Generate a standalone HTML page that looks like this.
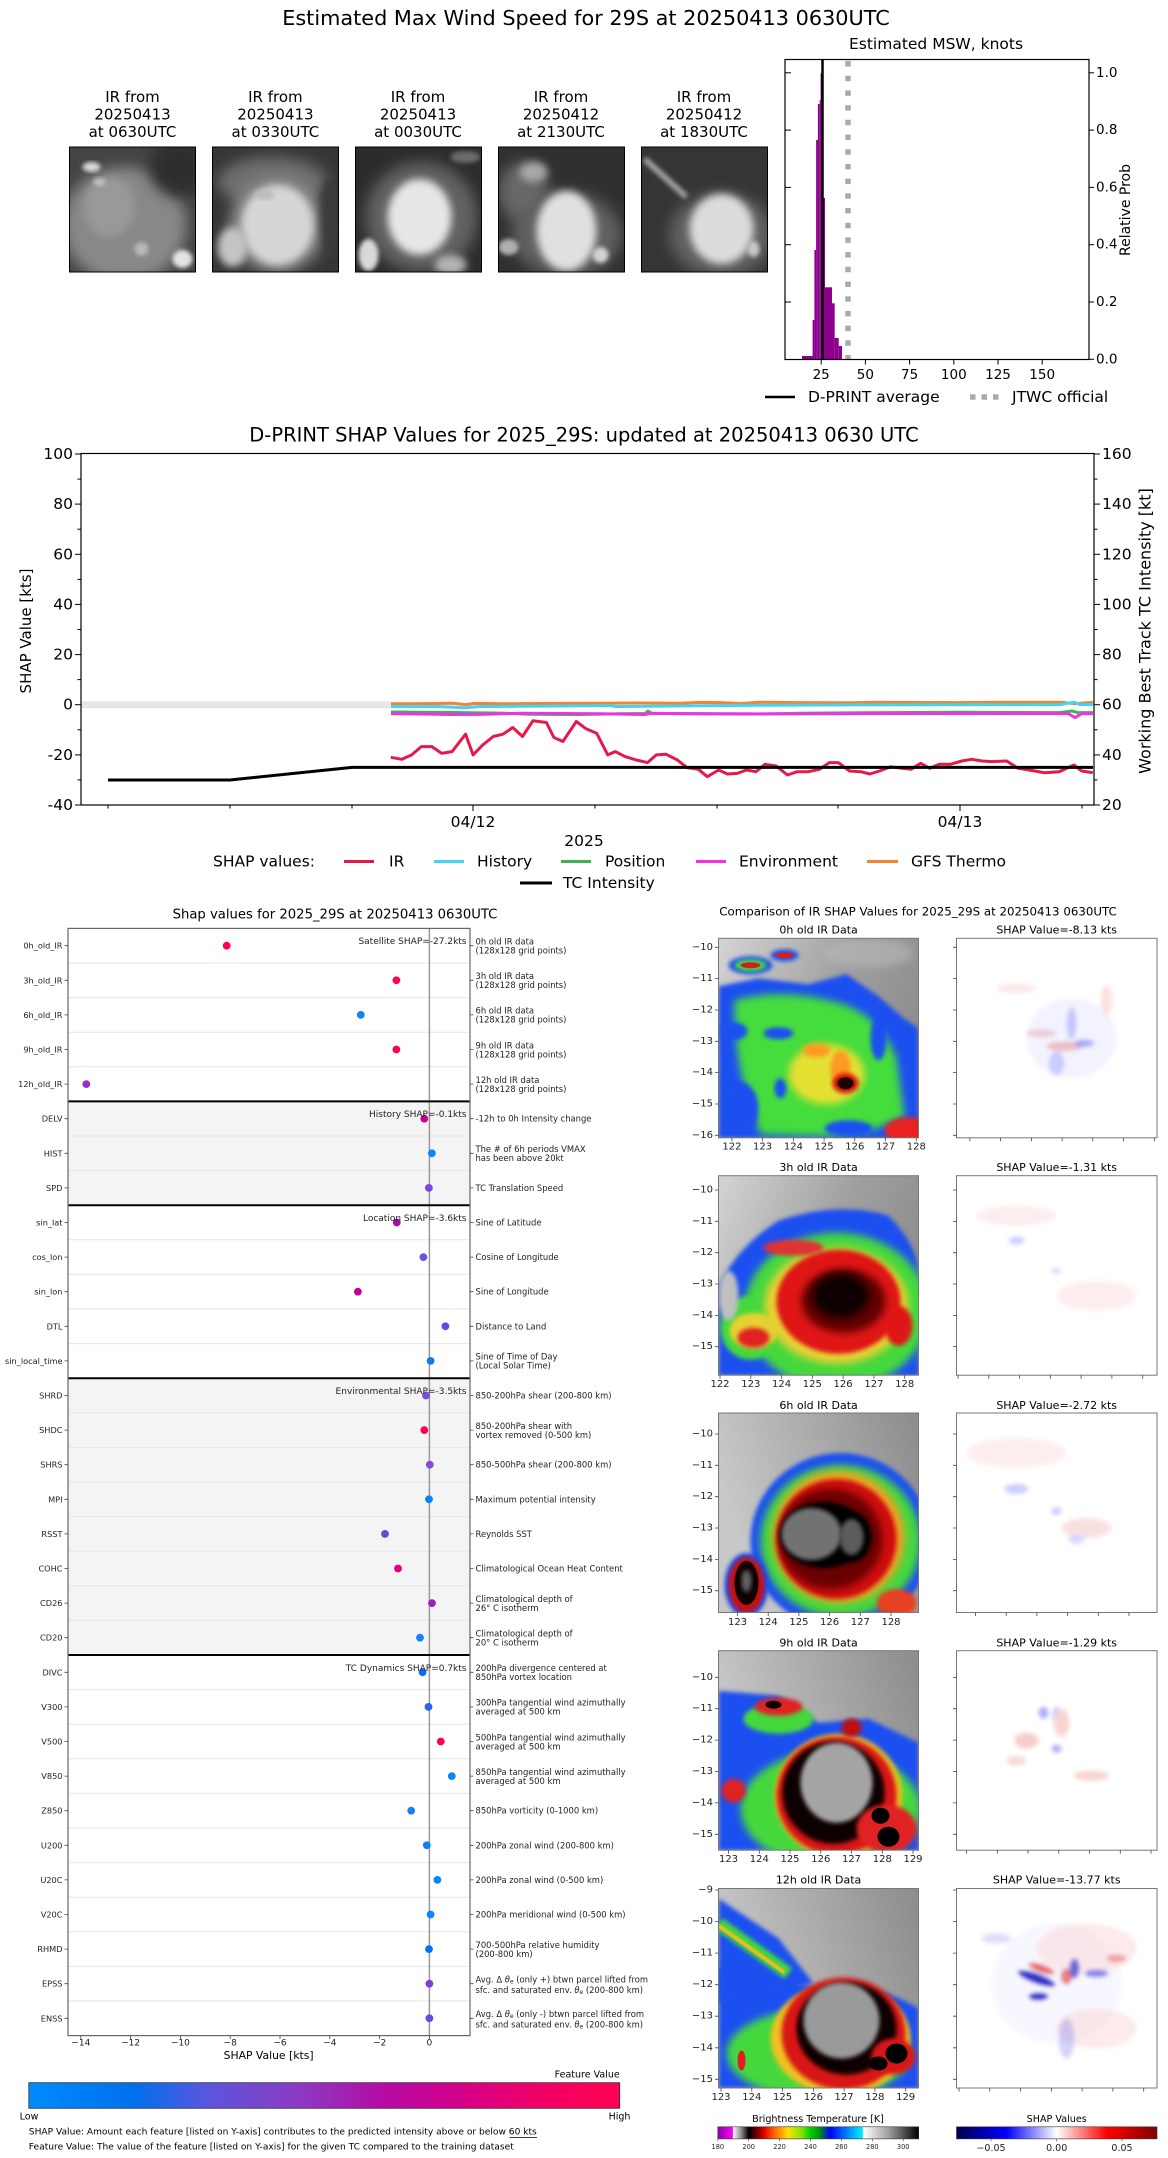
<!DOCTYPE html>
<html><head><meta charset="utf-8"><style>
html,body{margin:0;padding:0;background:#fff;}
svg{display:block;font-family:"DejaVu Sans","Liberation Sans",sans-serif;}
</style></head><body>
<svg width="1168" height="2158" viewBox="0 0 1168 2158" xmlns="http://www.w3.org/2000/svg">
<defs>
<filter id="b2" x="-20%" y="-20%" width="140%" height="140%"><feGaussianBlur stdDeviation="2"/></filter>
<filter id="b4" x="-30%" y="-30%" width="160%" height="160%"><feGaussianBlur stdDeviation="4"/></filter>
<filter id="b7" x="-40%" y="-40%" width="180%" height="180%"><feGaussianBlur stdDeviation="7"/></filter>
<clipPath id="cpI"><rect x="0" y="0" width="200" height="199.5"/></clipPath>
<clipPath id="cpT"><rect x="0" y="0" width="126" height="125"/></clipPath>
<linearGradient id="shapcb" x1="0" x2="1" y1="0" y2="0">
<stop offset="0" stop-color="#008bfb"/><stop offset="0.18" stop-color="#0070ec"/><stop offset="0.3" stop-color="#5a55dc"/><stop offset="0.45" stop-color="#8a3cc4"/><stop offset="0.6" stop-color="#b40ca4"/><stop offset="0.72" stop-color="#d2008c"/><stop offset="0.86" stop-color="#f00068"/><stop offset="1" stop-color="#ff0052"/>
</linearGradient>
<linearGradient id="btcb" x1="0" x2="1" y1="0" y2="0">
<stop offset="0" stop-color="#8a00a0"/><stop offset="0.074" stop-color="#ff00ff"/><stop offset="0.076" stop-color="#ffffff"/><stop offset="0.115" stop-color="#909090"/><stop offset="0.154" stop-color="#000000"/><stop offset="0.2" stop-color="#800000"/><stop offset="0.23" stop-color="#e00000"/><stop offset="0.28" stop-color="#ff6000"/><stop offset="0.35" stop-color="#ffe000"/><stop offset="0.42" stop-color="#80e000"/><stop offset="0.46" stop-color="#00d000"/><stop offset="0.5" stop-color="#00a000"/><stop offset="0.56" stop-color="#0000ff"/><stop offset="0.62" stop-color="#0060ff"/><stop offset="0.72" stop-color="#00f0ff"/><stop offset="0.725" stop-color="#ffffff"/><stop offset="0.85" stop-color="#a0a0a0"/><stop offset="1" stop-color="#000000"/>
</linearGradient>
<linearGradient id="seis" x1="0" x2="1" y1="0" y2="0">
<stop offset="0" stop-color="#00004c"/><stop offset="0.25" stop-color="#0000ff"/><stop offset="0.5" stop-color="#ffffff"/><stop offset="0.75" stop-color="#ff0000"/><stop offset="1" stop-color="#800000"/>
</linearGradient>
<linearGradient id="gbg1" x1="0" y1="0" x2="1" y2="0.4"><stop offset="0" stop-color="#d4d4d4"/><stop offset="0.6" stop-color="#a0a0a0"/><stop offset="1" stop-color="#8e8e8e"/></linearGradient>
<linearGradient id="gbg2" x1="0" y1="0.3" x2="1" y2="0"><stop offset="0" stop-color="#c8c8c8"/><stop offset="1" stop-color="#8c8c8c"/></linearGradient>
</defs>

<!-- ================= TOP SECTION ================= -->
<text x="586" y="18" font-size="20.8" text-anchor="middle" dominant-baseline="central" fill="#000">Estimated Max Wind Speed for 29S at 20250413 0630UTC</text>

<g font-size="15" text-anchor="middle" fill="#000" dominant-baseline="central">
<text x="132.5" y="97">IR from</text><text x="132.5" y="114.5">20250413</text><text x="132.5" y="132">at 0630UTC</text>
<text x="275.4" y="97">IR from</text><text x="275.4" y="114.5">20250413</text><text x="275.4" y="132">at 0330UTC</text>
<text x="418" y="97">IR from</text><text x="418" y="114.5">20250413</text><text x="418" y="132">at 0030UTC</text>
<text x="561" y="97">IR from</text><text x="561" y="114.5">20250412</text><text x="561" y="132">at 2130UTC</text>
<text x="704" y="97">IR from</text><text x="704" y="114.5">20250412</text><text x="704" y="132">at 1830UTC</text>
</g>

<g transform="translate(69.5,147)">
<g clip-path="url(#cpT)">
<rect width="126" height="125" fill="#444"/>
<ellipse cx="55" cy="78" rx="62" ry="58" fill="#888" filter="url(#b7)"/>
<ellipse cx="110" cy="20" rx="30" ry="30" fill="#2e2e2e" filter="url(#b7)"/>
<ellipse cx="40" cy="60" rx="25" ry="30" fill="#999" filter="url(#b4)"/>
<ellipse cx="22" cy="20" rx="9" ry="5" fill="#d8d8d8" filter="url(#b2)"/>
<ellipse cx="30" cy="35" rx="6" ry="4" fill="#c0c0c0" filter="url(#b2)"/>
<ellipse cx="113" cy="112" rx="10" ry="9" fill="#e4e4e4" filter="url(#b2)"/>
<ellipse cx="72" cy="102" rx="7" ry="7" fill="#b8b8b8" filter="url(#b2)"/>
</g>
<rect width="126" height="125" fill="none" stroke="#000" stroke-width="1"/>
</g>
<g transform="translate(212.5,147)">
<g clip-path="url(#cpT)">
<rect width="126" height="125" fill="#363636"/>
<ellipse cx="60" cy="35" rx="55" ry="25" fill="#6e6e6e" filter="url(#b7)"/>
<ellipse cx="65" cy="78" rx="48" ry="48" fill="#8a8a8a" filter="url(#b7)"/>
<ellipse cx="65" cy="78" rx="36" ry="40" fill="#d6d6d6" filter="url(#b4)"/>
<ellipse cx="20" cy="100" rx="15" ry="20" fill="#c4c4c4" filter="url(#b4)"/>
<ellipse cx="52" cy="48" rx="10" ry="5" fill="#bcbcbc" filter="url(#b2)"/>
<ellipse cx="118" cy="70" rx="10" ry="40" fill="#3a3a3a" filter="url(#b4)"/>
</g>
<rect width="126" height="125" fill="none" stroke="#000" stroke-width="1"/>
</g>
<g transform="translate(355.5,147)">
<g clip-path="url(#cpT)">
<rect width="126" height="125" fill="#2c2c2c"/>
<ellipse cx="66" cy="70" rx="56" ry="55" fill="#626262" filter="url(#b7)"/>
<ellipse cx="64" cy="70" rx="32" ry="38" fill="#e6e6e6" filter="url(#b4)"/>
<ellipse cx="13" cy="108" rx="10" ry="16" fill="#d8d8d8" filter="url(#b2)"/>
<ellipse cx="95" cy="118" rx="16" ry="10" fill="#b4b4b4" filter="url(#b4)"/>
<ellipse cx="110" cy="10" rx="15" ry="6" fill="#6a6a6a" filter="url(#b2)"/>
</g>
<rect width="126" height="125" fill="none" stroke="#000" stroke-width="1"/>
</g>
<g transform="translate(498.5,147)">
<g clip-path="url(#cpT)">
<rect width="126" height="125" fill="#303030"/>
<ellipse cx="25" cy="45" rx="25" ry="30" fill="#686868" filter="url(#b7)"/>
<ellipse cx="35" cy="25" rx="14" ry="10" fill="#a8a8a8" filter="url(#b4)"/>
<ellipse cx="68" cy="88" rx="55" ry="42" fill="#606060" filter="url(#b7)"/>
<ellipse cx="68" cy="84" rx="30" ry="40" fill="#e0e0e0" filter="url(#b4)"/>
<ellipse cx="102" cy="108" rx="8" ry="8" fill="#d2d2d2" filter="url(#b2)"/>
<ellipse cx="10" cy="100" rx="10" ry="8" fill="#b0b0b0" filter="url(#b2)"/>
</g>
<rect width="126" height="125" fill="none" stroke="#000" stroke-width="1"/>
</g>
<g transform="translate(641.5,147)">
<g clip-path="url(#cpT)">
<rect width="126" height="125" fill="#353535"/>
<line x1="3" y1="12" x2="45" y2="50" stroke="#a0a0a0" stroke-width="6" filter="url(#b2)"/>
<ellipse cx="80" cy="88" rx="52" ry="42" fill="#626262" filter="url(#b7)"/>
<ellipse cx="80" cy="82" rx="32" ry="35" fill="#dcdcdc" filter="url(#b4)"/>
<ellipse cx="112" cy="102" rx="6" ry="8" fill="#c8c8c8" filter="url(#b2)"/>
</g>
<rect width="126" height="125" fill="none" stroke="#000" stroke-width="1"/>
</g>

<!-- histogram -->
<g>
<rect x="785" y="59.5" width="304" height="300" fill="#fff"/>
<g fill="#8b008b">
<rect x="802" y="356" width="10.6" height="3.5"/>
<rect x="812.6" y="320" width="1.8" height="39.5"/>
<rect x="814.4" y="250" width="1.7" height="109.5"/>
<rect x="816.1" y="140" width="1.8" height="219.5"/>
<rect x="817.9" y="104" width="1.8" height="255.5"/>
<rect x="819.7" y="100" width="1" height="259.5"/>
<rect x="820.6" y="73.3" width="1.3" height="286.2"/>
<rect x="821.8" y="186.7" width="1.4" height="172.8"/>
<rect x="823.2" y="198" width="1.8" height="161.5"/>
<rect x="825" y="287.3" width="7" height="72.2"/>
<rect x="832" y="303.3" width="2.7" height="56.2"/>
<rect x="834.7" y="338" width="4" height="21.5"/>
<rect x="838.7" y="346" width="3.3" height="13.5"/>
</g>
<line x1="822.5" y1="59.5" x2="822.5" y2="359.5" stroke="#000" stroke-width="2.5"/>
<line x1="848" y1="61" x2="848" y2="359.5" stroke="#aaa" stroke-width="5.5" stroke-dasharray="5.5 9.2"/>
<rect x="785" y="59.5" width="304" height="300" fill="none" stroke="#000" stroke-width="1.2"/>
<g stroke="#000" stroke-width="1">
<line x1="1089" y1="359.3" x2="1094" y2="359.3"/><line x1="1089" y1="302" x2="1094" y2="302"/><line x1="1089" y1="244.7" x2="1094" y2="244.7"/><line x1="1089" y1="187.4" x2="1094" y2="187.4"/><line x1="1089" y1="130.1" x2="1094" y2="130.1"/><line x1="1089" y1="72.8" x2="1094" y2="72.8"/>
<line x1="785" y1="302" x2="791" y2="302"/><line x1="785" y1="244.7" x2="791" y2="244.7"/><line x1="785" y1="187.4" x2="791" y2="187.4"/><line x1="785" y1="130.1" x2="791" y2="130.1"/><line x1="785" y1="72.8" x2="791" y2="72.8"/>
<line x1="821.2" y1="359.5" x2="821.2" y2="364.5"/><line x1="865.4" y1="359.5" x2="865.4" y2="364.5"/><line x1="909.6" y1="359.5" x2="909.6" y2="364.5"/><line x1="953.8" y1="359.5" x2="953.8" y2="364.5"/><line x1="998" y1="359.5" x2="998" y2="364.5"/><line x1="1042.2" y1="359.5" x2="1042.2" y2="364.5"/>
</g>
<g font-size="13.5" fill="#000" dominant-baseline="central">
<text x="1096" y="359.3">0.0</text><text x="1096" y="302">0.2</text><text x="1096" y="244.7">0.4</text><text x="1096" y="187.4">0.6</text><text x="1096" y="130.1">0.8</text><text x="1096" y="72.8">1.0</text>
</g>
<g font-size="13.5" fill="#000" text-anchor="middle" dominant-baseline="central">
<text x="821.2" y="375">25</text><text x="865.4" y="375">50</text><text x="909.6" y="375">75</text><text x="953.8" y="375">100</text><text x="998" y="375">125</text><text x="1042.2" y="375">150</text>
</g>
<text x="936" y="44" font-size="15.5" text-anchor="middle" dominant-baseline="central">Estimated MSW, knots</text>
<text transform="translate(1126,210) rotate(-90)" font-size="14" text-anchor="middle" dominant-baseline="central">Relative Prob</text>
<line x1="765" y1="397" x2="795" y2="397" stroke="#000" stroke-width="2.5"/>
<text x="808" y="397" font-size="15.5" dominant-baseline="central">D-PRINT average</text>
<line x1="970" y1="397" x2="1000" y2="397" stroke="#aaa" stroke-width="5.5" stroke-dasharray="5.5 6"/>
<text x="1012" y="397" font-size="15.5" dominant-baseline="central">JTWC official</text>
</g>

<!-- ================= TIME SERIES ================= -->
<text x="584" y="435" font-size="19.5" text-anchor="middle" dominant-baseline="central">D-PRINT SHAP Values for 2025_29S: updated at 20250413 0630 UTC</text>
<rect x="81" y="701.3" width="310" height="7" fill="#e6e6e6"/>
<g fill="none" stroke-width="3" stroke-linejoin="round">
<polyline stroke="#f58231" points="391,703.8 430,703.6 452,703.3 466,704.6 475,703.4 500,703.8 540,703.5 600,703.3 640,703 680,703.2 700,702.4 720,702.6 740,703.5 760,702.2 800,702.6 850,702.8 880,702.3 960,702.6 1000,702.3 1060,702.2 1075,703.6 1093,702.4"/>
<polyline stroke="#42d4f4" points="391,706.6 440,706.6 465,707.8 480,706.5 560,706 610,705.5 616,706.5 700,705.8 760,705.3 860,704.9 960,704.7 1060,704.7 1074,702.2 1080,704.6 1093,704.6"/>
<polyline stroke="#3cb44b" points="391,712 450,712.5 500,713.1 530,714.2 580,714.5 620,713.8 645,713.5 648,711 652,713.5 700,713.6 760,714 800,713.3 860,712.8 960,712.3 1060,712.6 1072,711 1078,712.6 1093,712.6"/>
<polyline stroke="#f032e6" points="391,713.6 430,714.1 450,714.5 480,714.4 520,713.3 600,713.7 645,714.5 650,713.3 700,713.9 800,713.9 900,713.5 1000,713.5 1068,713.5 1075,717.6 1082,713.5 1093,713.6"/>
<polyline stroke="#e6194b" points="390.7,757.3 401.9,759.3 411.7,754.9 421.4,746.6 431.9,746.6 441.6,753.3 452.1,751.6 465.6,734.2 473.1,754.9 482.8,744.9 493.3,736.5 503,734.2 512.7,727.5 522.5,736.5 532.9,720.8 546.4,722.5 553.9,737.5 562.9,741.5 576.3,721.5 586.1,728.8 596.6,733.2 607.8,754.9 615.3,751.6 625,756.6 636.2,760 647.5,762.6 656.4,754.9 666.2,754.3 677.4,760 687.1,767.7 698.4,769.3 707.3,776.7 718.6,770 727.5,774 737.3,773.4 746.3,770 756,771.7 765,764.3 776.2,766 787.4,775 797.2,771.7 808.4,771.7 819.6,769.3 829.3,762.6 838.3,762.6 849.6,771 860.8,771.7 869.8,774 879.5,771 890.7,766.7 902,768.3 910.9,769.3 920.7,763.3 929.6,768.3 939.4,764.3 950.6,764.3 961.8,761 971.6,759.3 982,761 991.8,761.6 1006.7,761 1018,768.3 1029.2,770 1044.2,772.7 1059.1,771.7 1074.1,765 1081.6,771 1092.8,772.7"/>
<polyline stroke="#000" points="108,780 230,780 352,767.4 1093,767.4"/>
</g>
<rect x="81" y="453.5" width="1013" height="351.5" fill="none" stroke="#000" stroke-width="1.2"/>
<g stroke="#000" stroke-width="1">
<line x1="75" y1="454" x2="81" y2="454"/><line x1="75" y1="504.1" x2="81" y2="504.1"/><line x1="75" y1="554.3" x2="81" y2="554.3"/><line x1="75" y1="604.4" x2="81" y2="604.4"/><line x1="75" y1="654.6" x2="81" y2="654.6"/><line x1="75" y1="704.7" x2="81" y2="704.7"/><line x1="75" y1="754.9" x2="81" y2="754.9"/><line x1="75" y1="805" x2="81" y2="805"/>
<line x1="77.5" y1="479.1" x2="81" y2="479.1"/><line x1="77.5" y1="529.2" x2="81" y2="529.2"/><line x1="77.5" y1="579.4" x2="81" y2="579.4"/><line x1="77.5" y1="629.5" x2="81" y2="629.5"/><line x1="77.5" y1="679.6" x2="81" y2="679.6"/><line x1="77.5" y1="729.8" x2="81" y2="729.8"/><line x1="77.5" y1="779.9" x2="81" y2="779.9"/>
<line x1="1094" y1="454" x2="1100" y2="454"/><line x1="1094" y1="504.1" x2="1100" y2="504.1"/><line x1="1094" y1="554.3" x2="1100" y2="554.3"/><line x1="1094" y1="604.4" x2="1100" y2="604.4"/><line x1="1094" y1="654.6" x2="1100" y2="654.6"/><line x1="1094" y1="704.7" x2="1100" y2="704.7"/><line x1="1094" y1="754.9" x2="1100" y2="754.9"/><line x1="1094" y1="805" x2="1100" y2="805"/>
<line x1="1094" y1="479.1" x2="1097.5" y2="479.1"/><line x1="1094" y1="529.2" x2="1097.5" y2="529.2"/><line x1="1094" y1="579.4" x2="1097.5" y2="579.4"/><line x1="1094" y1="629.5" x2="1097.5" y2="629.5"/><line x1="1094" y1="679.6" x2="1097.5" y2="679.6"/><line x1="1094" y1="729.8" x2="1097.5" y2="729.8"/><line x1="1094" y1="779.9" x2="1097.5" y2="779.9"/>
<line x1="473" y1="805" x2="473" y2="811"/><line x1="960" y1="805" x2="960" y2="811"/>
<line x1="108" y1="805" x2="108" y2="808.5"/><line x1="230" y1="805" x2="230" y2="808.5"/><line x1="352" y1="805" x2="352" y2="808.5"/><line x1="595" y1="805" x2="595" y2="808.5"/><line x1="717" y1="805" x2="717" y2="808.5"/><line x1="838" y1="805" x2="838" y2="808.5"/><line x1="1082" y1="805" x2="1082" y2="808.5"/>
</g>
<g font-size="15.5" fill="#000" text-anchor="end" dominant-baseline="central">
<text x="73" y="454">100</text><text x="73" y="504.1">80</text><text x="73" y="554.3">60</text><text x="73" y="604.4">40</text><text x="73" y="654.6">20</text><text x="73" y="704.7">0</text><text x="73" y="754.9">-20</text><text x="73" y="805">-40</text>
</g>
<g font-size="15.5" fill="#000" dominant-baseline="central">
<text x="1102" y="454">160</text><text x="1102" y="504.1">140</text><text x="1102" y="554.3">120</text><text x="1102" y="604.4">100</text><text x="1102" y="654.6">80</text><text x="1102" y="704.7">60</text><text x="1102" y="754.9">40</text><text x="1102" y="805">20</text>
</g>
<g font-size="15.5" fill="#000" text-anchor="middle" dominant-baseline="central">
<text x="473" y="822">04/12</text><text x="960" y="822">04/13</text>
<text x="584" y="841">2025</text>
</g>
<text transform="translate(26,631) rotate(-90)" font-size="15" text-anchor="middle" dominant-baseline="central">SHAP Value [kts]</text>
<text transform="translate(1145,631) rotate(-90)" font-size="16" text-anchor="middle" dominant-baseline="central">Working Best Track TC Intensity [kt]</text>
<g font-size="15.5" dominant-baseline="central" fill="#000">
<text x="213" y="861.5">SHAP values:</text>
<line x1="344" y1="861.5" x2="374" y2="861.5" stroke="#e6194b" stroke-width="3"/><text x="389" y="861.5">IR</text>
<line x1="434" y1="861.5" x2="464" y2="861.5" stroke="#42d4f4" stroke-width="3"/><text x="477" y="861.5">History</text>
<line x1="561" y1="861.5" x2="591" y2="861.5" stroke="#3cb44b" stroke-width="3"/><text x="605" y="861.5">Position</text>
<line x1="696" y1="861.5" x2="726" y2="861.5" stroke="#f032e6" stroke-width="3"/><text x="739" y="861.5">Environment</text>
<line x1="867" y1="861.5" x2="898" y2="861.5" stroke="#f58231" stroke-width="3"/><text x="911" y="861.5">GFS Thermo</text>
<line x1="520" y1="883" x2="552" y2="883" stroke="#000" stroke-width="3"/><text x="563" y="883">TC Intensity</text>
</g>

<!-- ================= LEFT SHAP PANEL ================= -->
<text x="335" y="915" font-size="13.2" text-anchor="middle" dominant-baseline="central">Shap values for 2025_29S at 20250413 0630UTC</text>
<rect x="68" y="1101.4" width="402" height="103.8" fill="#f4f4f4"/>
<rect x="68" y="1378.2" width="402" height="276.8" fill="#f4f4f4"/>
<g stroke="#e6e6e6" stroke-width="1">
<line x1="68" x2="470" y1="963" y2="963"/><line x1="68" x2="470" y1="997.6" y2="997.6"/><line x1="68" x2="470" y1="1032.2" y2="1032.2"/><line x1="68" x2="470" y1="1066.8" y2="1066.8"/>
<line x1="68" x2="470" y1="1136" y2="1136"/><line x1="68" x2="470" y1="1170.6" y2="1170.6"/>
<line x1="68" x2="470" y1="1239.8" y2="1239.8"/><line x1="68" x2="470" y1="1274.4" y2="1274.4"/><line x1="68" x2="470" y1="1309" y2="1309"/><line x1="68" x2="470" y1="1343.6" y2="1343.6"/>
<line x1="68" x2="470" y1="1412.8" y2="1412.8"/><line x1="68" x2="470" y1="1447.4" y2="1447.4"/><line x1="68" x2="470" y1="1482" y2="1482"/><line x1="68" x2="470" y1="1516.6" y2="1516.6"/><line x1="68" x2="470" y1="1551.2" y2="1551.2"/><line x1="68" x2="470" y1="1585.8" y2="1585.8"/><line x1="68" x2="470" y1="1620.4" y2="1620.4"/>
<line x1="68" x2="470" y1="1689.6" y2="1689.6"/><line x1="68" x2="470" y1="1724.2" y2="1724.2"/><line x1="68" x2="470" y1="1758.8" y2="1758.8"/><line x1="68" x2="470" y1="1793.4" y2="1793.4"/><line x1="68" x2="470" y1="1828" y2="1828"/><line x1="68" x2="470" y1="1862.6" y2="1862.6"/><line x1="68" x2="470" y1="1897.2" y2="1897.2"/><line x1="68" x2="470" y1="1931.8" y2="1931.8"/><line x1="68" x2="470" y1="1966.4" y2="1966.4"/><line x1="68" x2="470" y1="2001" y2="2001"/>
</g>
<line x1="429.4" y1="928.4" x2="429.4" y2="2035.6" stroke="#999" stroke-width="1.5"/>
<g stroke="#000" stroke-width="2">
<line x1="68" x2="470" y1="1101.4" y2="1101.4"/><line x1="68" x2="470" y1="1205.2" y2="1205.2"/><line x1="68" x2="470" y1="1378.2" y2="1378.2"/><line x1="68" x2="470" y1="1655" y2="1655"/>
</g>
<rect x="68" y="928.4" width="402" height="1107.2" fill="none" stroke="#666" stroke-width="1.2"/>
<g>
<circle cx="226.7" cy="945.7" r="3.9" fill="#ff0052"/>
<circle cx="396.4" cy="980.3" r="3.9" fill="#ff0052"/>
<circle cx="360.8" cy="1014.9" r="3.9" fill="#0a85fa"/>
<circle cx="396.4" cy="1049.5" r="3.9" fill="#fa0056"/>
<circle cx="86.3" cy="1084.1" r="3.9" fill="#9a30c8"/>
<circle cx="424.3" cy="1118.7" r="3.9" fill="#c8009a"/>
<circle cx="431.9" cy="1153.3" r="3.9" fill="#0a85fa"/>
<circle cx="428.9" cy="1187.9" r="3.9" fill="#7a4ae0"/>
<circle cx="396.8" cy="1222.5" r="3.9" fill="#a010b0"/>
<circle cx="423.4" cy="1257.1" r="3.9" fill="#6a52e0"/>
<circle cx="357.9" cy="1291.7" r="3.9" fill="#c4009c"/>
<circle cx="445.4" cy="1326.3" r="3.9" fill="#6a48e0"/>
<circle cx="430.6" cy="1360.9" r="3.9" fill="#1278f5"/>
<circle cx="426" cy="1395.5" r="3.9" fill="#7650dc"/>
<circle cx="424.3" cy="1430.1" r="3.9" fill="#ff0052"/>
<circle cx="429.8" cy="1464.7" r="3.9" fill="#8848d8"/>
<circle cx="429" cy="1499.3" r="3.9" fill="#0a80fa"/>
<circle cx="385" cy="1533.9" r="3.9" fill="#6a48d8"/>
<circle cx="398" cy="1568.5" r="3.9" fill="#e0007f"/>
<circle cx="432" cy="1603.1" r="3.9" fill="#9820c0"/>
<circle cx="420" cy="1637.7" r="3.9" fill="#1a80f8"/>
<circle cx="422.6" cy="1672.3" r="3.9" fill="#0870f0"/>
<circle cx="428.5" cy="1706.9" r="3.9" fill="#3060ec"/>
<circle cx="440.8" cy="1741.5" r="3.9" fill="#ff0052"/>
<circle cx="451.8" cy="1776.1" r="3.9" fill="#0a85fa"/>
<circle cx="411.2" cy="1810.7" r="3.9" fill="#1a80f8"/>
<circle cx="426.8" cy="1845.3" r="3.9" fill="#1080f8"/>
<circle cx="437.4" cy="1879.9" r="3.9" fill="#0a85fa"/>
<circle cx="430.6" cy="1914.5" r="3.9" fill="#0a85fa"/>
<circle cx="429" cy="1949.1" r="3.9" fill="#0870f0"/>
<circle cx="429.4" cy="1983.7" r="3.9" fill="#7a40d8"/>
<circle cx="429.4" cy="2018.3" r="3.9" fill="#5a50e0"/>
</g>
<g font-size="9" text-anchor="end" dominant-baseline="central" fill="#222">
<text x="466.5" y="942.2">Satellite SHAP=-27.2kts</text>
<text x="466.5" y="1115.2">History SHAP=-0.1kts</text>
<text x="466.5" y="1219">Location SHAP=-3.6kts</text>
<text x="466.5" y="1392">Environmental SHAP=-3.5kts</text>
<text x="466.5" y="1668.8">TC Dynamics SHAP=0.7kts</text>
</g>
<g font-size="8.2" text-anchor="end" dominant-baseline="central" fill="#222">
<text x="62.5" y="945.7">0h_old_IR</text><text x="62.5" y="980.3">3h_old_IR</text><text x="62.5" y="1014.9">6h_old_IR</text><text x="62.5" y="1049.5">9h_old_IR</text><text x="62.5" y="1084.1">12h_old_IR</text>
<text x="62.5" y="1118.7">DELV</text><text x="62.5" y="1153.3">HIST</text><text x="62.5" y="1187.9">SPD</text>
<text x="62.5" y="1222.5">sin_lat</text><text x="62.5" y="1257.1">cos_lon</text><text x="62.5" y="1291.7">sin_lon</text><text x="62.5" y="1326.3">DTL</text><text x="62.5" y="1360.9">sin_local_time</text>
<text x="62.5" y="1395.5">SHRD</text><text x="62.5" y="1430.1">SHDC</text><text x="62.5" y="1464.7">SHRS</text><text x="62.5" y="1499.3">MPI</text><text x="62.5" y="1533.9">RSST</text><text x="62.5" y="1568.5">COHC</text><text x="62.5" y="1603.1">CD26</text><text x="62.5" y="1637.7">CD20</text>
<text x="62.5" y="1672.3">DIVC</text><text x="62.5" y="1706.9">V300</text><text x="62.5" y="1741.5">V500</text><text x="62.5" y="1776.1">V850</text><text x="62.5" y="1810.7">Z850</text><text x="62.5" y="1845.3">U200</text><text x="62.5" y="1879.9">U20C</text><text x="62.5" y="1914.5">V20C</text><text x="62.5" y="1949.1">RHMD</text><text x="62.5" y="1983.7">EPSS</text><text x="62.5" y="2018.3">ENSS</text>
</g>
<g stroke="#444" stroke-width="0.8">
<path d="M64.5 945.7h3.5M64.5 980.3h3.5M64.5 1014.9h3.5M64.5 1049.5h3.5M64.5 1084.1h3.5M64.5 1118.7h3.5M64.5 1153.3h3.5M64.5 1187.9h3.5M64.5 1222.5h3.5M64.5 1257.1h3.5M64.5 1291.7h3.5M64.5 1326.3h3.5M64.5 1360.9h3.5M64.5 1395.5h3.5M64.5 1430.1h3.5M64.5 1464.7h3.5M64.5 1499.3h3.5M64.5 1533.9h3.5M64.5 1568.5h3.5M64.5 1603.1h3.5M64.5 1637.7h3.5M64.5 1672.3h3.5M64.5 1706.9h3.5M64.5 1741.5h3.5M64.5 1776.1h3.5M64.5 1810.7h3.5M64.5 1845.3h3.5M64.5 1879.9h3.5M64.5 1914.5h3.5M64.5 1949.1h3.5M64.5 1983.7h3.5M64.5 2018.3h3.5"/>
<path d="M470 945.7h3.5M470 980.3h3.5M470 1014.9h3.5M470 1049.5h3.5M470 1084.1h3.5M470 1118.7h3.5M470 1153.3h3.5M470 1187.9h3.5M470 1222.5h3.5M470 1257.1h3.5M470 1291.7h3.5M470 1326.3h3.5M470 1360.9h3.5M470 1395.5h3.5M470 1430.1h3.5M470 1464.7h3.5M470 1499.3h3.5M470 1533.9h3.5M470 1568.5h3.5M470 1603.1h3.5M470 1637.7h3.5M470 1672.3h3.5M470 1706.9h3.5M470 1741.5h3.5M470 1776.1h3.5M470 1810.7h3.5M470 1845.3h3.5M470 1879.9h3.5M470 1914.5h3.5M470 1949.1h3.5M470 1983.7h3.5M470 2018.3h3.5"/>
</g>
<g font-size="8.4" dominant-baseline="central" fill="#222">
<text x="475.5" y="941.5">0h old IR data</text><text x="475.5" y="950.5">(128x128 grid points)</text>
<text x="475.5" y="976.1">3h old IR data</text><text x="475.5" y="985.1">(128x128 grid points)</text>
<text x="475.5" y="1010.7">6h old IR data</text><text x="475.5" y="1019.7">(128x128 grid points)</text>
<text x="475.5" y="1045.3">9h old IR data</text><text x="475.5" y="1054.3">(128x128 grid points)</text>
<text x="475.5" y="1079.9">12h old IR data</text><text x="475.5" y="1088.9">(128x128 grid points)</text>
<text x="475.5" y="1118.7">-12h to 0h Intensity change</text>
<text x="475.5" y="1149.1">The # of 6h periods VMAX</text><text x="475.5" y="1158.1">has been above 20kt</text>
<text x="475.5" y="1187.9">TC Translation Speed</text>
<text x="475.5" y="1222.5">Sine of Latitude</text>
<text x="475.5" y="1257.1">Cosine of Longitude</text>
<text x="475.5" y="1291.7">Sine of Longitude</text>
<text x="475.5" y="1326.3">Distance to Land</text>
<text x="475.5" y="1356.7">Sine of Time of Day</text><text x="475.5" y="1365.7">(Local Solar Time)</text>
<text x="475.5" y="1395.5">850-200hPa shear (200-800 km)</text>
<text x="475.5" y="1425.9">850-200hPa shear with</text><text x="475.5" y="1434.9">vortex removed (0-500 km)</text>
<text x="475.5" y="1464.7">850-500hPa shear (200-800 km)</text>
<text x="475.5" y="1499.3">Maximum potential intensity</text>
<text x="475.5" y="1533.9">Reynolds SST</text>
<text x="475.5" y="1568.5">Climatological Ocean Heat Content</text>
<text x="475.5" y="1598.9">Climatological depth of</text><text x="475.5" y="1607.9">26° C isotherm</text>
<text x="475.5" y="1633.5">Climatological depth of</text><text x="475.5" y="1642.5">20° C isotherm</text>
<text x="475.5" y="1668.1">200hPa divergence centered at</text><text x="475.5" y="1677.1">850hPa vortex location</text>
<text x="475.5" y="1702.7">300hPa tangential wind azimuthally</text><text x="475.5" y="1711.7">averaged at 500 km</text>
<text x="475.5" y="1737.3">500hPa tangential wind azimuthally</text><text x="475.5" y="1746.3">averaged at 500 km</text>
<text x="475.5" y="1771.9">850hPa tangential wind azimuthally</text><text x="475.5" y="1780.9">averaged at 500 km</text>
<text x="475.5" y="1810.7">850hPa vorticity (0-1000 km)</text>
<text x="475.5" y="1845.3">200hPa zonal wind (200-800 km)</text>
<text x="475.5" y="1879.9">200hPa zonal wind (0-500 km)</text>
<text x="475.5" y="1914.5">200hPa meridional wind (0-500 km)</text>
<text x="475.5" y="1944.9">700-500hPa relative humidity</text><text x="475.5" y="1953.9">(200-800 km)</text>
<text x="475.5" y="1979.5">Avg. Δ <tspan font-style="italic">θ</tspan><tspan font-size="6" dy="2">e</tspan><tspan dy="-2"> (only +) btwn parcel lifted from</tspan></text>
<text x="475.5" y="1989.9">sfc. and saturated env. <tspan font-style="italic">θ</tspan><tspan font-size="6" dy="2">e</tspan><tspan dy="-2"> (200-800 km)</tspan></text>
<text x="475.5" y="2014.1">Avg. Δ <tspan font-style="italic">θ</tspan><tspan font-size="6" dy="2">e</tspan><tspan dy="-2"> (only -) btwn parcel lifted from</tspan></text>
<text x="475.5" y="2024.5">sfc. and saturated env. <tspan font-style="italic">θ</tspan><tspan font-size="6" dy="2">e</tspan><tspan dy="-2"> (200-800 km)</tspan></text>
</g>
<g stroke="#444" stroke-width="0.8">
<path d="M80.8 2035.6v3.5M130.6 2035.6v3.5M180.4 2035.6v3.5M230.2 2035.6v3.5M280 2035.6v3.5M329.8 2035.6v3.5M379.6 2035.6v3.5M429.4 2035.6v3.5"/>
</g>
<g font-size="9" text-anchor="middle" dominant-baseline="central" fill="#222">
<text x="80.8" y="2043.5">−14</text><text x="130.6" y="2043.5">−12</text><text x="180.4" y="2043.5">−10</text><text x="230.2" y="2043.5">−8</text><text x="280" y="2043.5">−6</text><text x="329.8" y="2043.5">−4</text><text x="379.6" y="2043.5">−2</text><text x="429.4" y="2043.5">0</text>
</g>
<text x="268.6" y="2055.5" font-size="10.8" text-anchor="middle" dominant-baseline="central">SHAP Value [kts]</text>
<rect x="28.8" y="2082.7" width="590.9" height="25.6" fill="url(#shapcb)" stroke="#333" stroke-width="0.8"/>
<text x="619.7" y="2075" font-size="9.5" text-anchor="end" dominant-baseline="central">Feature Value</text>
<text x="29" y="2117" font-size="9.5" text-anchor="middle" dominant-baseline="central">Low</text>
<text x="619.5" y="2117" font-size="9.5" text-anchor="middle" dominant-baseline="central">High</text>
<text x="28.8" y="2132.3" font-size="9" textLength="508" lengthAdjust="spacingAndGlyphs" dominant-baseline="central">SHAP Value: Amount each feature [listed on Y-axis] contributes to the predicted intensity above or below 60 kts</text>
<line x1="509.5" y1="2137.5" x2="537" y2="2137.5" stroke="#000" stroke-width="0.7"/>
<text x="28.8" y="2147.3" font-size="9" textLength="485" lengthAdjust="spacingAndGlyphs" dominant-baseline="central">Feature Value: The value of the feature [listed on Y-axis] for the given TC compared to the training dataset</text>

<!-- ================= RIGHT IR PANELS ================= -->
<text x="918" y="911.7" font-size="11.8" text-anchor="middle" dominant-baseline="central">Comparison of IR SHAP Values for 2025_29S at 20250413 0630UTC</text>
<g font-size="11" text-anchor="middle" dominant-baseline="central">
<text x="818.6" y="930">0h old IR Data</text><text x="1056.7" y="930">SHAP Value=-8.13 kts</text>
<text x="818.6" y="1167.7">3h old IR Data</text><text x="1056.7" y="1167.7">SHAP Value=-1.31 kts</text>
<text x="818.6" y="1405.3">6h old IR Data</text><text x="1056.7" y="1405.3">SHAP Value=-2.72 kts</text>
<text x="818.6" y="1643">9h old IR Data</text><text x="1056.7" y="1643">SHAP Value=-1.29 kts</text>
<text x="818.6" y="1880">12h old IR Data</text><text x="1056.7" y="1880">SHAP Value=-13.77 kts</text>
</g>

<g transform="translate(718.5,938.3)">
<g clip-path="url(#cpI)">
<rect width="200" height="200" fill="url(#gbg1)"/>
<path d="M0,48 L40,40 L90,46 L128,36 L160,58 L185,80 L200,90 L200,200 L0,200 Z" fill="#1a50f0" filter="url(#b2)"/>
<path d="M16,62 Q60,50 110,62 Q160,72 178,120 L186,178 Q150,198 100,198 L42,196 Q14,130 16,62 Z" fill="#44dc3c" filter="url(#b4)"/>
<ellipse cx="15" cy="93" rx="14" ry="9" fill="#1a50f0" filter="url(#b2)"/>
<ellipse cx="60" cy="95" rx="15" ry="6" fill="#1a50f0" filter="url(#b2)"/>
<ellipse cx="22" cy="170" rx="18" ry="26" fill="#1a50f0" filter="url(#b2)"/>
<ellipse cx="160" cy="100" rx="8" ry="22" fill="#1a50f0" filter="url(#b2)"/>
<ellipse cx="130" cy="190" rx="24" ry="8" fill="#1a50f0" filter="url(#b2)"/>
<ellipse cx="62" cy="150" rx="6" ry="10" fill="#1a50f0" filter="url(#b2)"/>
<ellipse cx="108" cy="136" rx="38" ry="30" fill="#e4e030" filter="url(#b4)"/>
<ellipse cx="98" cy="112" rx="14" ry="7" fill="#ff9a20" filter="url(#b2)"/>
<ellipse cx="122" cy="130" rx="10" ry="18" fill="#ff9a20" filter="url(#b2)"/>
<ellipse cx="127" cy="145" rx="13" ry="10" fill="#d01010" filter="url(#b2)"/>
<ellipse cx="127" cy="145" rx="8" ry="6" fill="#200000"/>
<ellipse cx="190" cy="192" rx="24" ry="13" fill="#e82020" filter="url(#b2)"/>
<ellipse cx="32" cy="27" rx="22" ry="9" fill="#1a50f0" filter="url(#b2)"/>
<ellipse cx="32" cy="27" rx="16" ry="6" fill="#44dc3c" filter="url(#b2)"/>
<ellipse cx="32" cy="27" rx="10" ry="3" fill="#d02020"/>
<ellipse cx="66" cy="17" rx="14" ry="6" fill="#1a50f0" filter="url(#b2)"/>
<ellipse cx="66" cy="17" rx="9" ry="3" fill="#d02020"/>
<ellipse cx="150" cy="15" rx="45" ry="14" fill="#b8b8b8" opacity="0.6" filter="url(#b4)"/>
</g>
<rect width="200" height="199.5" fill="none" stroke="#777" stroke-width="1"/>
</g>
<g transform="translate(718.5,1175.7)">
<g clip-path="url(#cpI)">
<rect width="200" height="200" fill="url(#gbg1)"/>
<path d="M0,110 Q20,70 60,45 Q120,25 170,40 Q200,70 200,100 L200,200 L0,200 Z" fill="#1a50f0" filter="url(#b2)"/>
<ellipse cx="118" cy="135" rx="92" ry="78" fill="#44d83c" filter="url(#b4)"/>
<ellipse cx="32" cy="152" rx="30" ry="32" fill="#44d83c" filter="url(#b2)"/>
<ellipse cx="118" cy="130" rx="72" ry="58" fill="#e8d030" filter="url(#b4)"/>
<ellipse cx="120" cy="126" rx="62" ry="52" fill="#e01818" filter="url(#b2)"/>
<ellipse cx="180" cy="150" rx="14" ry="20" fill="#e01818" filter="url(#b2)"/>
<ellipse cx="75" cy="72" rx="30" ry="8" fill="#e03030" filter="url(#b2)"/>
<ellipse cx="125" cy="125" rx="42" ry="32" fill="#600000" filter="url(#b4)"/>
<ellipse cx="122" cy="120" rx="28" ry="22" fill="#0a0000" filter="url(#b4)"/>
<ellipse cx="35" cy="155" rx="24" ry="18" fill="#e8d030" filter="url(#b2)"/>
<ellipse cx="35" cy="162" rx="16" ry="10" fill="#e02020" filter="url(#b2)"/>
<ellipse cx="10" cy="120" rx="10" ry="25" fill="#c0c0c0" filter="url(#b2)"/>
</g>
<rect width="200" height="199.5" fill="none" stroke="#777" stroke-width="1"/>
</g>
<g transform="translate(718.5,1413)">
<g clip-path="url(#cpI)">
<rect width="200" height="200" fill="url(#gbg2)"/>
<ellipse cx="122" cy="128" rx="90" ry="88" fill="#1a50f0" filter="url(#b2)"/>
<ellipse cx="122" cy="128" rx="80" ry="76" fill="#44d83c" filter="url(#b4)"/>
<ellipse cx="120" cy="124" rx="66" ry="66" fill="#f0a020" filter="url(#b4)"/>
<ellipse cx="118" cy="126" rx="60" ry="60" fill="#d01010" filter="url(#b2)"/>
<ellipse cx="112" cy="126" rx="52" ry="50" fill="#6a0000" filter="url(#b4)"/>
<ellipse cx="105" cy="122" rx="44" ry="33" fill="#050000" filter="url(#b2)"/>
<ellipse cx="134" cy="124" rx="19" ry="25" fill="#050000" filter="url(#b2)"/>
<ellipse cx="93" cy="121" rx="30" ry="26" fill="#727272" filter="url(#b2)"/>
<ellipse cx="133" cy="124" rx="12" ry="18" fill="#5c5c5c" filter="url(#b2)"/>
<ellipse cx="28" cy="172" rx="22" ry="32" fill="#1a50f0" filter="url(#b2)"/>
<ellipse cx="28" cy="172" rx="18" ry="28" fill="#c81010" filter="url(#b2)"/>
<ellipse cx="28" cy="170" rx="12" ry="22" fill="#100000"/>
<ellipse cx="28" cy="168" rx="5" ry="11" fill="#606060" filter="url(#b2)"/>
<ellipse cx="178" cy="190" rx="20" ry="14" fill="#e84020" filter="url(#b2)"/>
</g>
<rect width="200" height="199.5" fill="none" stroke="#777" stroke-width="1"/>
</g>
<g transform="translate(718.5,1650.7)">
<g clip-path="url(#cpI)">
<rect width="200" height="200" fill="url(#gbg2)"/>
<path d="M0,40 L60,45 L100,72 L150,68 L200,92 L200,200 L0,200 Z" fill="#1a50f0" filter="url(#b2)"/>
<ellipse cx="112" cy="158" rx="90" ry="58" fill="#44d83c" filter="url(#b4)"/>
<ellipse cx="60" cy="68" rx="35" ry="15" fill="#44d83c" filter="url(#b2)"/>
<ellipse cx="60" cy="56" rx="24" ry="9" fill="#e02020" filter="url(#b2)"/>
<ellipse cx="55" cy="54" rx="8" ry="4" fill="#100000"/>
<ellipse cx="120" cy="145" rx="64" ry="62" fill="#e8c020" filter="url(#b2)"/>
<ellipse cx="118" cy="145" rx="60" ry="59" fill="#d81818" filter="url(#b2)"/>
<ellipse cx="115" cy="142" rx="51" ry="51" fill="#080000" filter="url(#b2)"/>
<ellipse cx="118" cy="132" rx="36" ry="40" fill="#a4a4a4" filter="url(#b2)"/>
<ellipse cx="133" cy="77" rx="10" ry="9" fill="#c01010" filter="url(#b2)"/>
<ellipse cx="168" cy="178" rx="30" ry="24" fill="#e02020" filter="url(#b2)"/>
<ellipse cx="162" cy="165" rx="9" ry="8" fill="#000"/>
<ellipse cx="170" cy="186" rx="11" ry="10" fill="#000"/>
<ellipse cx="15" cy="140" rx="12" ry="12" fill="#e02020" filter="url(#b2)"/>
</g>
<rect width="200" height="199.5" fill="none" stroke="#777" stroke-width="1"/>
</g>
<g transform="translate(718.5,1888.5)">
<g clip-path="url(#cpI)">
<rect width="200" height="200" fill="url(#gbg2)"/>
<path d="M0,78 Q60,90 100,100 Q150,90 200,120 L200,200 L0,200 Z" fill="#1a50f0" filter="url(#b2)"/>
<path d="M0,10 L60,50 L95,95 L0,115 Z" fill="#1a50f0" filter="url(#b2)"/>
<line x1="0" y1="35" x2="70" y2="85" stroke="#44d83c" stroke-width="13" filter="url(#b2)"/>
<line x1="0" y1="37" x2="66" y2="84" stroke="#e0c020" stroke-width="4"/>
<ellipse cx="100" cy="165" rx="92" ry="45" fill="#44d83c" filter="url(#b4)"/>
<ellipse cx="122" cy="150" rx="70" ry="56" fill="#f0c020" filter="url(#b2)"/>
<ellipse cx="125" cy="145" rx="62" ry="56" fill="#d81818" filter="url(#b2)"/>
<ellipse cx="128" cy="140" rx="50" ry="46" fill="#080000" filter="url(#b2)"/>
<ellipse cx="123" cy="132" rx="38" ry="38" fill="#9a9a9a" filter="url(#b2)"/>
<ellipse cx="175" cy="168" rx="22" ry="18" fill="#d81818" filter="url(#b2)"/>
<ellipse cx="178" cy="165" rx="11" ry="10" fill="#000"/>
<ellipse cx="160" cy="175" rx="9" ry="7" fill="#000"/>
<ellipse cx="23" cy="172" rx="4" ry="10" fill="#e02020"/>
</g>
<rect width="200" height="199.5" fill="none" stroke="#777" stroke-width="1"/>
</g>

<g transform="translate(956.5,938.3)">
<rect width="200.5" height="199.5" fill="#fff"/>
<g filter="url(#b2)">
<ellipse cx="115" cy="100" rx="45" ry="40" fill="#d8d8ff" opacity="0.3"/>
<ellipse cx="108" cy="108" rx="18" ry="5" fill="#e08080" opacity="0.45"/>
<ellipse cx="128" cy="105" rx="10" ry="4" fill="#5a5aff" opacity="0.45"/>
<ellipse cx="115" cy="85" rx="5" ry="16" fill="#8080ff" opacity="0.4"/>
<ellipse cx="85" cy="95" rx="15" ry="4" fill="#e09090" opacity="0.4"/>
<ellipse cx="100" cy="125" rx="8" ry="12" fill="#8080ff" opacity="0.35"/>
<ellipse cx="150" cy="62" rx="6" ry="15" fill="#f0a0a0" opacity="0.3"/>
<ellipse cx="60" cy="50" rx="20" ry="5" fill="#f0b0b0" opacity="0.25"/>
</g>
<rect width="200.5" height="199.5" fill="none" stroke="#777" stroke-width="1"/>
</g>
<g transform="translate(956.5,1175.7)">
<rect width="200.5" height="199.5" fill="#fff"/>
<g filter="url(#b2)" opacity="0.3">
<ellipse cx="60" cy="65" rx="8" ry="4" fill="#6060ff"/>
<ellipse cx="100" cy="95" rx="5" ry="3" fill="#8080ff"/>
<ellipse cx="60" cy="40" rx="40" ry="10" fill="#f8c8c8"/>
<ellipse cx="140" cy="120" rx="40" ry="15" fill="#f8c8c8"/>
</g>
<rect width="200.5" height="199.5" fill="none" stroke="#777" stroke-width="1"/>
</g>
<g transform="translate(956.5,1413)">
<rect width="200.5" height="199.5" fill="#fff"/>
<g filter="url(#b2)" opacity="0.35">
<ellipse cx="60" cy="76" rx="12" ry="5" fill="#7070ff"/>
<ellipse cx="100" cy="98" rx="5" ry="4" fill="#7070ff"/>
<ellipse cx="130" cy="115" rx="25" ry="10" fill="#f0a8a8"/>
<ellipse cx="60" cy="40" rx="50" ry="15" fill="#fad0d0"/>
<ellipse cx="120" cy="126" rx="8" ry="5" fill="#9090ff"/>
</g>
<rect width="200.5" height="199.5" fill="none" stroke="#777" stroke-width="1"/>
</g>
<g transform="translate(956.5,1650.7)">
<rect width="200.5" height="199.5" fill="#fff"/>
<g filter="url(#b2)" opacity="0.45">
<ellipse cx="87" cy="62" rx="5" ry="6" fill="#5050ff"/>
<ellipse cx="100" cy="66" rx="4" ry="10" fill="#7070ff"/>
<ellipse cx="70" cy="90" rx="12" ry="8" fill="#f09090"/>
<ellipse cx="100" cy="98" rx="5" ry="4" fill="#5050ff"/>
<ellipse cx="105" cy="72" rx="8" ry="14" fill="#f0a0a0"/>
<ellipse cx="135" cy="125" rx="18" ry="5" fill="#f0a0a0"/>
<ellipse cx="60" cy="110" rx="10" ry="5" fill="#f0b0b0"/>
</g>
<rect width="200.5" height="199.5" fill="none" stroke="#777" stroke-width="1"/>
</g>
<g transform="translate(956.5,1888.5)">
<rect width="200.5" height="199.5" fill="#fff"/>
<g filter="url(#b2)">
<ellipse cx="100" cy="95" rx="65" ry="60" fill="#e6e6ff" opacity="0.3"/>
<ellipse cx="130" cy="60" rx="50" ry="25" fill="#fad0d0" opacity="0.45"/>
<ellipse cx="140" cy="140" rx="40" ry="20" fill="#fad0d0" opacity="0.45"/>
<ellipse cx="80" cy="90" rx="20" ry="5" fill="#1010c0" transform="rotate(20 80 90)" opacity="0.85"/>
<ellipse cx="82" cy="108" rx="10" ry="4" fill="#1010c0" opacity="0.85"/>
<ellipse cx="85" cy="80" rx="14" ry="4" fill="#e03030" transform="rotate(20 85 80)" opacity="0.7"/>
<ellipse cx="110" cy="88" rx="6" ry="8" fill="#e03030" opacity="0.6"/>
<ellipse cx="118" cy="80" rx="5" ry="10" fill="#3030d0" opacity="0.7"/>
<ellipse cx="140" cy="85" rx="12" ry="4" fill="#4040e0" opacity="0.6"/>
<ellipse cx="160" cy="70" rx="10" ry="4" fill="#e06060" opacity="0.5"/>
<ellipse cx="110" cy="150" rx="8" ry="20" fill="#8080f0" opacity="0.35"/>
<ellipse cx="40" cy="50" rx="15" ry="5" fill="#9090f0" opacity="0.3"/>
</g>
<rect width="200.5" height="199.5" fill="none" stroke="#777" stroke-width="1"/>
</g>

<g stroke="#444" stroke-width="0.8" fill="none">
<path d="M715 947.3h3.5M715 978.6h3.5M715 1010h3.5M715 1041.3h3.5M715 1072.6h3.5M715 1104h3.5M715 1135.3h3.5"/>
<path d="M731.9 1137.8v3.5M762.6 1137.8v3.5M793.4 1137.8v3.5M824.1 1137.8v3.5M854.8 1137.8v3.5M885.6 1137.8v3.5M916.3 1137.8v3.5"/>
<path d="M953 947.3h3.5M953 978.6h3.5M953 1010h3.5M953 1041.3h3.5M953 1072.6h3.5M953 1104h3.5M953 1135.3h3.5"/>
<path d="M969.9 1137.8v3.5M1000.6 1137.8v3.5M1031.4 1137.8v3.5M1062.1 1137.8v3.5M1092.8 1137.8v3.5M1123.6 1137.8v3.5M1154.3 1137.8v3.5"/>
<path d="M715 1190h3.5M715 1221.3h3.5M715 1252.7h3.5M715 1284h3.5M715 1315.4h3.5M715 1346.7h3.5"/>
<path d="M720 1375.2v3.5M750.8 1375.2v3.5M781.6 1375.2v3.5M812.3 1375.2v3.5M843.1 1375.2v3.5M873.9 1375.2v3.5M904.7 1375.2v3.5"/>
<path d="M953 1190h3.5M953 1221.3h3.5M953 1252.7h3.5M953 1284h3.5M953 1315.4h3.5M953 1346.7h3.5"/>
<path d="M958 1375.2v3.5M988.8 1375.2v3.5M1019.6 1375.2v3.5M1050.3 1375.2v3.5M1081.1 1375.2v3.5M1111.9 1375.2v3.5M1142.7 1375.2v3.5"/>
<path d="M715 1434h3.5M715 1465.3h3.5M715 1496.7h3.5M715 1528h3.5M715 1559.4h3.5M715 1590.7h3.5"/>
<path d="M737.5 1612.5v3.5M768.2 1612.5v3.5M798.9 1612.5v3.5M829.6 1612.5v3.5M860.3 1612.5v3.5M891 1612.5v3.5"/>
<path d="M953 1434h3.5M953 1465.3h3.5M953 1496.7h3.5M953 1528h3.5M953 1559.4h3.5M953 1590.7h3.5"/>
<path d="M975.5 1612.5v3.5M1006.2 1612.5v3.5M1036.9 1612.5v3.5M1067.6 1612.5v3.5M1098.3 1612.5v3.5M1129 1612.5v3.5"/>
<path d="M715 1677.3h3.5M715 1708.7h3.5M715 1740.1h3.5M715 1771.5h3.5M715 1802.9h3.5M715 1834.3h3.5"/>
<path d="M728.5 1850.2v3.5M759.3 1850.2v3.5M790 1850.2v3.5M820.8 1850.2v3.5M851.5 1850.2v3.5M882.3 1850.2v3.5M913 1850.2v3.5"/>
<path d="M953 1677.3h3.5M953 1708.7h3.5M953 1740.1h3.5M953 1771.5h3.5M953 1802.9h3.5M953 1834.3h3.5"/>
<path d="M966.5 1850.2v3.5M997.3 1850.2v3.5M1028 1850.2v3.5M1058.8 1850.2v3.5M1089.5 1850.2v3.5M1120.3 1850.2v3.5M1151 1850.2v3.5"/>
<path d="M715 1890h3.5M715 1921.6h3.5M715 1953.1h3.5M715 1984.7h3.5M715 2016.2h3.5M715 2047.8h3.5M715 2079.3h3.5"/>
<path d="M721 2088v3.5M751.8 2088v3.5M782.6 2088v3.5M813.4 2088v3.5M844.1 2088v3.5M874.9 2088v3.5M905.7 2088v3.5"/>
<path d="M953 1890h3.5M953 1921.6h3.5M953 1953.1h3.5M953 1984.7h3.5M953 2016.2h3.5M953 2047.8h3.5M953 2079.3h3.5"/>
<path d="M959 2088v3.5M989.8 2088v3.5M1020.6 2088v3.5M1051.4 2088v3.5M1082.1 2088v3.5M1112.9 2088v3.5M1143.7 2088v3.5"/>
</g>
<g font-size="10" fill="#222" text-anchor="end" dominant-baseline="central">
<text x="713" y="947.3">−10</text><text x="713" y="978.6">−11</text><text x="713" y="1010">−12</text><text x="713" y="1041.3">−13</text><text x="713" y="1072.6">−14</text><text x="713" y="1104">−15</text><text x="713" y="1135.3">−16</text>
<text x="713" y="1190">−10</text><text x="713" y="1221.3">−11</text><text x="713" y="1252.7">−12</text><text x="713" y="1284">−13</text><text x="713" y="1315.4">−14</text><text x="713" y="1346.7">−15</text>
<text x="713" y="1434">−10</text><text x="713" y="1465.3">−11</text><text x="713" y="1496.7">−12</text><text x="713" y="1528">−13</text><text x="713" y="1559.4">−14</text><text x="713" y="1590.7">−15</text>
<text x="713" y="1677.3">−10</text><text x="713" y="1708.7">−11</text><text x="713" y="1740.1">−12</text><text x="713" y="1771.5">−13</text><text x="713" y="1802.9">−14</text><text x="713" y="1834.3">−15</text>
<text x="713" y="1890">−9</text><text x="713" y="1921.6">−10</text><text x="713" y="1953.1">−11</text><text x="713" y="1984.7">−12</text><text x="713" y="2016.2">−13</text><text x="713" y="2047.8">−14</text><text x="713" y="2079.3">−15</text>
</g>
<g font-size="10" fill="#222" text-anchor="middle" dominant-baseline="central">
<text x="731.9" y="1147">122</text><text x="762.6" y="1147">123</text><text x="793.4" y="1147">124</text><text x="824.1" y="1147">125</text><text x="854.8" y="1147">126</text><text x="885.6" y="1147">127</text><text x="916.3" y="1147">128</text>
<text x="720" y="1384.7">122</text><text x="750.8" y="1384.7">123</text><text x="781.6" y="1384.7">124</text><text x="812.3" y="1384.7">125</text><text x="843.1" y="1384.7">126</text><text x="873.9" y="1384.7">127</text><text x="904.7" y="1384.7">128</text>
<text x="737.5" y="1622.3">123</text><text x="768.2" y="1622.3">124</text><text x="798.9" y="1622.3">125</text><text x="829.6" y="1622.3">126</text><text x="860.3" y="1622.3">127</text><text x="891" y="1622.3">128</text>
<text x="728.5" y="1859.5">123</text><text x="759.3" y="1859.5">124</text><text x="790" y="1859.5">125</text><text x="820.8" y="1859.5">126</text><text x="851.5" y="1859.5">127</text><text x="882.3" y="1859.5">128</text><text x="913" y="1859.5">129</text>
<text x="721" y="2097.5">123</text><text x="751.8" y="2097.5">124</text><text x="782.6" y="2097.5">125</text><text x="813.4" y="2097.5">126</text><text x="844.1" y="2097.5">127</text><text x="874.9" y="2097.5">128</text><text x="905.7" y="2097.5">129</text>
</g>

<text x="818" y="2119.4" font-size="9.6" text-anchor="middle" dominant-baseline="central">Brightness Temperature [K]</text>
<rect x="717.8" y="2126.8" width="200.9" height="12.1" fill="url(#btcb)" stroke="#333" stroke-width="0.6"/>
<g stroke="#444" stroke-width="0.6"><path d="M717.8 2138.9v2.5M748.7 2138.9v2.5M779.6 2138.9v2.5M810.5 2138.9v2.5M841.4 2138.9v2.5M872.3 2138.9v2.5M903.2 2138.9v2.5"/></g>
<g font-size="6.6" fill="#222" text-anchor="middle" dominant-baseline="central">
<text x="717.8" y="2147">180</text><text x="748.7" y="2147">200</text><text x="779.6" y="2147">220</text><text x="810.5" y="2147">240</text><text x="841.4" y="2147">260</text><text x="872.3" y="2147">280</text><text x="903.2" y="2147">300</text>
</g>
<text x="1056.7" y="2119.4" font-size="9.6" text-anchor="middle" dominant-baseline="central">SHAP Values</text>
<rect x="956.5" y="2126.8" width="200.5" height="12.1" fill="url(#seis)" stroke="#333" stroke-width="0.6"/>
<g stroke="#444" stroke-width="0.6"><path d="M991 2138.9v2.5M1056.7 2138.9v2.5M1122 2138.9v2.5"/></g>
<g font-size="9.5" fill="#222" text-anchor="middle" dominant-baseline="central">
<text x="991" y="2148.5">−0.05</text><text x="1056.7" y="2148.5">0.00</text><text x="1122" y="2148.5">0.05</text>
</g>
</svg>
</body></html>
